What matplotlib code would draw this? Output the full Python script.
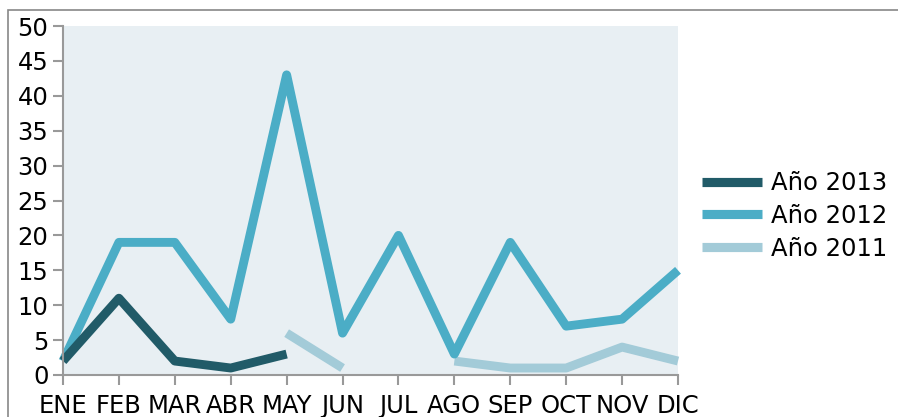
import matplotlib
matplotlib.use("Agg")
import matplotlib.pyplot as plt
import numpy as np
from matplotlib.patches import Rectangle

months = ["ENE", "FEB", "MAR", "ABR", "MAY", "JUN", "JUL", "AGO", "SEP", "OCT", "NOV", "DIC"]
y2013 = [2, 11, 2, 1, 3, None, None, None, None, None, None, None]
y2012 = [2, 19, 19, 8, 43, 6, 20, 3, 19, 7, 8, 15]
y2011 = [None, None, None, None, 6, 1, None, 2, 1, 1, 4, 2]
series_labels = ["Año 2013", "Año 2012", "Año 2011"]
colors = ["#215b68", "#4badc6", "#a3cbd8"]
yticks = [0, 5, 10, 15, 20, 25, 30, 35, 40, 45, 50]

def arr(v):
    return np.array([np.nan if x is None else x for x in v], dtype=float)

plt.rcParams['font.family'] = ['DejaVu Sans']
fig = plt.figure(figsize=(8.98, 4.17), dpi=100)
fig.patch.set_facecolor("white")
ax = fig.add_axes([63/898, 1-375/417, (678-63)/898, (375-26)/417])
ax.set_facecolor("#e8eff3")

x = np.arange(len(months))
order = [(y2011, 2), (y2012, 1), (y2013, 0)]
lines = {}
for data, i in order:
    ln, = ax.plot(x, arr(data), color=colors[i], lw=6.4, solid_capstyle='butt',
                  solid_joinstyle='round', clip_on=False, label=series_labels[i])
    lines[i] = ln

ax.set_xlim(0, 11)
ax.set_ylim(0, 50)
ax.set_xticks(x)
ax.set_xticklabels(months)
ax.set_yticks(yticks)
for s in ["top", "right"]:
    ax.spines[s].set_visible(False)
for s in ["left", "bottom"]:
    ax.spines[s].set_color("#999999")
    ax.spines[s].set_linewidth(1.5)
ax.tick_params(axis='both', colors="#999999", labelcolor="black", labelsize=17.5,
               length=7.5, width=1.5, direction='out')
ax.tick_params(axis='y', pad=3)
ax.tick_params(axis='x', pad=6.5)

leg = fig.legend([lines[0], lines[1], lines[2]], series_labels, loc='center left',
                 bbox_to_anchor=(692/898, 1-216/417), frameon=False, fontsize=17.5,
                 handlelength=2.5, handletextpad=0.35, labelspacing=0.35, borderaxespad=0)
for h in leg.get_lines():
    h.set_linewidth(6.6)

fig.add_artist(Rectangle((8/898, -0.1), 1.0, 1-10/417+0.1, transform=fig.transFigure,
                         fill=False, edgecolor="#888888", lw=1.2, zorder=-1))

fig.savefig("out.png", dpi=100)
